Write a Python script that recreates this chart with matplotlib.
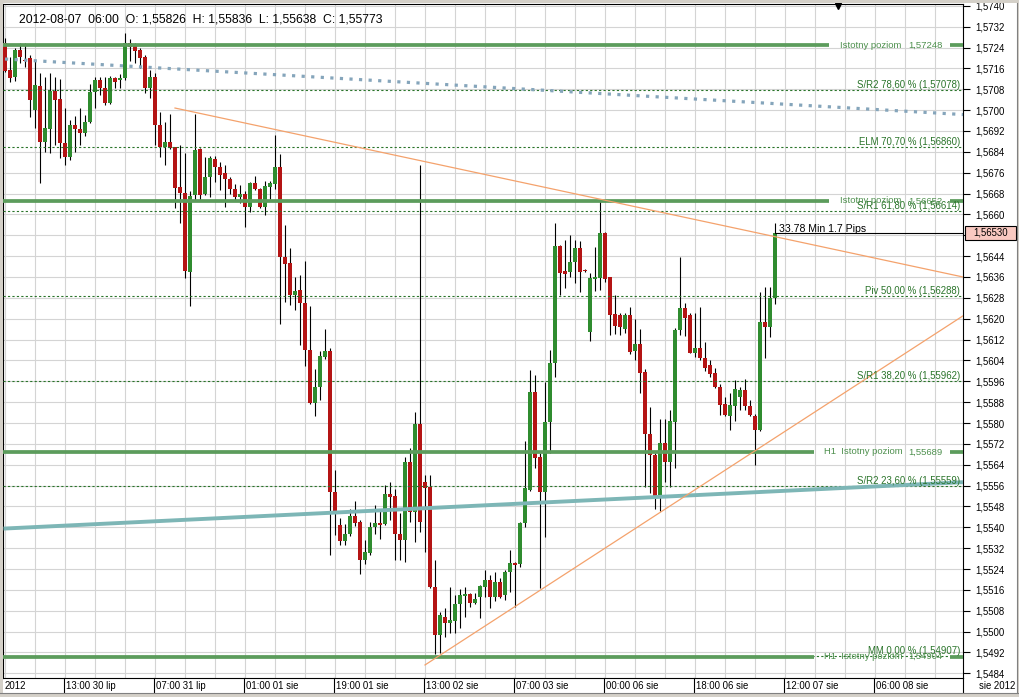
import matplotlib
matplotlib.use('Agg')
import matplotlib.pyplot as plt
from matplotlib.patches import Rectangle
from matplotlib.transforms import blended_transform_factory
import numpy as np

plt.rcParams['font.family'] = ['Liberation Sans', 'DejaVu Sans']

# ---------------- data (GBPUSD H1 candles) ----------------
opens = [1.57256, 1.57154, 1.57128, 1.57230, 1.57194, 1.57198, 1.57000, 1.57092, 1.56879, 1.56926,
         1.57073, 1.57041, 1.56872, 1.56821, 1.56943, 1.56929, 1.56913, 1.56953, 1.57070, 1.57115,
         1.57086, 1.57026, 1.57122, 1.57115, 1.57122, 1.57256, 1.57249, 1.57230, 1.57205, 1.57083,
         1.57128, 1.56943, 1.56857, 1.56879, 1.56857, 1.56704, 1.56683, 1.56378, 1.56674, 1.56849,
         1.56678, 1.56744, 1.56811, 1.56783, 1.56757, 1.56734, 1.56696, 1.56665, 1.56678, 1.56627,
         1.56719, 1.56696, 1.56629, 1.56706, 1.56716, 1.56782, 1.56436, 1.56415, 1.56291, 1.56310,
         1.56259, 1.56081, 1.55877, 1.55939, 1.56052, 1.56076, 1.55534, 1.55408, 1.55348, 1.55373,
         1.55445, 1.55421, 1.55276, 1.55300, 1.55402, 1.55418, 1.55413, 1.55526, 1.55521, 1.55374,
         1.55351, 1.55652, 1.55460, 1.55796, 1.55575, 1.55553, 1.55172, 1.54987, 1.55055, 1.55034,
         1.55042, 1.55106, 1.55137, 1.55144, 1.55108, 1.55134, 1.55170, 1.55198, 1.55134, 1.55191,
         1.55140, 1.55230, 1.55264, 1.55259, 1.55415, 1.55543, 1.55920, 1.55671, 1.55537, 1.55805,
         1.56029, 1.56479, 1.56384, 1.56380, 1.56419, 1.56470, 1.56387, 1.56150, 1.56351, 1.56355,
         1.56527, 1.56359, 1.56218, 1.56214, 1.56159, 1.56214, 1.56077, 1.56103, 1.55997, 1.55758,
         1.55677, 1.55511, 1.55722, 1.55652, 1.55805, 1.56157, 1.56240, 1.56214, 1.56070, 1.56086,
         1.56048, 1.56022, 1.55991, 1.55939, 1.55873, 1.55827, 1.55865, 1.55898, 1.55926, 1.55865,
         1.55826, 1.55773, 1.56189, 1.56169, 1.56278]
highs = [1.57275, 1.57205, 1.57237, 1.57256, 1.57258, 1.57211, 1.57192, 1.57141, 1.57128, 1.57143,
         1.57128, 1.57118, 1.57010, 1.56962, 1.56977, 1.57010, 1.56981, 1.57102, 1.57128, 1.57128,
         1.57128, 1.57131, 1.57128, 1.57137, 1.57297, 1.57271, 1.57258, 1.57237, 1.57211, 1.57154,
         1.57141, 1.56994, 1.56955, 1.56987, 1.56860, 1.56866, 1.56836, 1.56690, 1.56985, 1.56853,
         1.56821, 1.56824, 1.56824, 1.56802, 1.56789, 1.56744, 1.56716, 1.56712, 1.56691, 1.56725,
         1.56747, 1.56700, 1.56728, 1.56728, 1.56903, 1.56831, 1.56561, 1.56472, 1.56359, 1.56367,
         1.56423, 1.56249, 1.56006, 1.56076, 1.56162, 1.56087, 1.55618, 1.55437, 1.55413, 1.55470,
         1.55499, 1.55429, 1.55353, 1.55421, 1.55486, 1.55466, 1.55563, 1.55575, 1.55547, 1.55454,
         1.55671, 1.55703, 1.55843, 1.56790, 1.55601, 1.55601, 1.55275, 1.55076, 1.55089, 1.55170,
         1.55140, 1.55162, 1.55172, 1.55147, 1.55147, 1.55179, 1.55236, 1.55217, 1.55230, 1.55204,
         1.55236, 1.55313, 1.55268, 1.55422, 1.55732, 1.56003, 1.55984, 1.55684, 1.55958, 1.56080,
         1.56566, 1.56483, 1.56502, 1.56521, 1.56502, 1.56499, 1.56390, 1.56374, 1.56476, 1.56655,
         1.56534, 1.56361, 1.56291, 1.56223, 1.56223, 1.56246, 1.56198, 1.56159, 1.56006, 1.55863,
         1.55686, 1.55814, 1.55814, 1.55850, 1.56163, 1.56438, 1.56259, 1.56221, 1.56221, 1.56244,
         1.56112, 1.56042, 1.56010, 1.55950, 1.55898, 1.55914, 1.55965, 1.55939, 1.55967, 1.55888,
         1.55836, 1.56304, 1.56320, 1.56323, 1.56568]
lows = [1.57145, 1.57109, 1.57113, 1.57179, 1.57164, 1.56975, 1.56930, 1.56721, 1.56840, 1.56834,
        1.56866, 1.56815, 1.56789, 1.56808, 1.56840, 1.56866, 1.56900, 1.56949, 1.57009, 1.57058,
        1.57019, 1.57023, 1.57083, 1.57083, 1.57115, 1.57189, 1.57182, 1.57160, 1.57067, 1.57045,
        1.56866, 1.56821, 1.56789, 1.56849, 1.56623, 1.56566, 1.56356, 1.56249, 1.56655, 1.56655,
        1.56674, 1.56668, 1.56725, 1.56693, 1.56627, 1.56677, 1.56655, 1.56642, 1.56550, 1.56610,
        1.56693, 1.56623, 1.56597, 1.56661, 1.56696, 1.56181, 1.56265, 1.56254, 1.56233, 1.56100,
        1.56020, 1.55871, 1.55825, 1.55890, 1.56044, 1.55295, 1.55369, 1.55332, 1.55332, 1.55365,
        1.55405, 1.55219, 1.55260, 1.55295, 1.55373, 1.55356, 1.55408, 1.55429, 1.55273, 1.55275,
        1.55268, 1.55422, 1.55345, 1.55383, 1.55306, 1.55166, 1.54914, 1.54917, 1.54978, 1.54993,
        1.54993, 1.55012, 1.55057, 1.55095, 1.55106, 1.55051, 1.55134, 1.55089, 1.55118, 1.55128,
        1.55121, 1.55153, 1.55096, 1.55249, 1.55402, 1.55540, 1.55626, 1.55166, 1.55364, 1.55684,
        1.55978, 1.56291, 1.56316, 1.56361, 1.56336, 1.56304, 1.56380, 1.56116, 1.56308, 1.56310,
        1.56342, 1.56137, 1.56141, 1.56137, 1.56147, 1.56065, 1.56042, 1.55914, 1.55553, 1.55533,
        1.55469, 1.55464, 1.55575, 1.55556, 1.55626, 1.56137, 1.56134, 1.56067, 1.56052, 1.56042,
        1.56001, 1.55978, 1.55933, 1.55831, 1.55827, 1.55773, 1.55809, 1.55850, 1.55850, 1.55827,
        1.55638, 1.55770, 1.56048, 1.56131, 1.56256]
closes = [1.57151, 1.57122, 1.57230, 1.57205, 1.57189, 1.57039, 1.57096, 1.56879, 1.56930, 1.57073,
          1.57039, 1.56872, 1.56821, 1.56943, 1.56926, 1.56913, 1.56955, 1.57070, 1.57115, 1.57083,
          1.57026, 1.57122, 1.57109, 1.57124, 1.57256, 1.57243, 1.57228, 1.57198, 1.57083, 1.57128,
          1.56943, 1.56860, 1.56879, 1.56853, 1.56700, 1.56683, 1.56383, 1.56669, 1.56847, 1.56674,
          1.56744, 1.56817, 1.56783, 1.56751, 1.56734, 1.56696, 1.56665, 1.56678, 1.56629, 1.56719,
          1.56696, 1.56629, 1.56709, 1.56719, 1.56783, 1.56436, 1.56411, 1.56291, 1.56307, 1.56259,
          1.56081, 1.55877, 1.55939, 1.56056, 1.56076, 1.55534, 1.55454, 1.55348, 1.55376, 1.55445,
          1.55418, 1.55276, 1.55305, 1.55402, 1.55418, 1.55408, 1.55526, 1.55518, 1.55373, 1.55351,
          1.55652, 1.55460, 1.55796, 1.55421, 1.55549, 1.55170, 1.54987, 1.55064, 1.55034, 1.55044,
          1.55106, 1.55140, 1.55144, 1.55108, 1.55124, 1.55175, 1.55198, 1.55134, 1.55191, 1.55134,
          1.55230, 1.55262, 1.55255, 1.55415, 1.55549, 1.55920, 1.55664, 1.55537, 1.55805, 1.56029,
          1.56479, 1.56374, 1.56371, 1.56419, 1.56470, 1.56380, 1.56384, 1.56355, 1.56361, 1.56527,
          1.56351, 1.56214, 1.56172, 1.56169, 1.56214, 1.56074, 1.56103, 1.55993, 1.55758, 1.55677,
          1.55511, 1.55722, 1.55652, 1.55809, 1.56157, 1.56240, 1.56201, 1.56070, 1.56086, 1.56048,
          1.56010, 1.55988, 1.55939, 1.55869, 1.55831, 1.55869, 1.55929, 1.55926, 1.55865, 1.55831,
          1.55773, 1.56189, 1.56169, 1.56278, 1.56530]

time_labels = ["13:00 30 lip", "07:00 31 lip", "01:00 01 sie", "19:00 01 sie", "13:00 02 sie",
               "07:00 03 sie", "00:00 06 sie", "18:00 06 sie", "12:00 07 sie", "06:00 08 sie"]
time_label_bar = [12, 30, 48, 66, 84, 102, 120, 138, 156, 174]

price_ticks = [round(1.5484 + 0.0008 * k, 4) for k in range(33)]

fib_levels = [1.57078, 1.56860, 1.56614, 1.56288, 1.55962, 1.55559, 1.54907]
fib_labels = ["S/R2 78,60 % (1,57078)", "ELM 70,70 % (1,56860)", "S/R1 61,80 % (1,56614)",
              "Piv 50,00 % (1,56288)", "S/R1 38,20 % (1,55962)", "S/R2 23,60 % (1,55559)",
              "MM 0,00 % (1,54907)"]

key_levels = [1.57248, 1.56652, 1.55689, 1.54904]
key_names = ["Istotny poziom", "Istotny poziom", "H1  Istotny poziom", "H1  Istotny poziom"]
key_values = ["1,57248", "1,56652", "1,55689", "1,54904"]

# trend objects: (bar1, price1, bar2, price2)
blue_dotted = (0.0, 1.57196, 191.6, 1.56983)
teal_line = (-0.3, 1.55395, 191.6, 1.55573)
orange_down = (34.0, 1.57008, 191.6, 1.56360)
orange_up = (84.0, 1.54872, 191.6, 1.56211)

last_price = 1.56530
header = "2012-08-07  06:00  O: 1,55826  H: 1,55836  L: 1,55638  C: 1,55773"
timer_text = "33.78 Min 1.7 Pips"

# ---------------- layout ----------------
W, H = 1020, 697
L_PX, R_PX, T_PX, B_PX = 3.5, 963.0, 4.0, 678.0
xmin, xmax = -0.3, 191.6
ymin, ymax = 1.54822, 1.57407

fig = plt.figure(figsize=(W / 100, H / 100), dpi=100)
fig.patch.set_facecolor('white')
ax = fig.add_axes([L_PX / W, 1 - B_PX / H, (R_PX - L_PX) / W, (B_PX - T_PX) / H])
ax.set_xlim(xmin, xmax)
ax.set_ylim(ymin, ymax)
ax.set_facecolor('white')

ppx = (B_PX - T_PX) / (ymax - ymin)      # pixels per price unit
xpx = (R_PX - L_PX) / (xmax - xmin)      # pixels per bar


def px2bar(px):
    return xmin + (px - L_PX) / xpx


# grid
for p in price_ticks:
    ax.axhline(p, color='#d4d4d4', lw=0.8, zorder=0.5)
for b in range(0, 192, 6):
    ax.axvline(b, color='#d4d4d4', lw=0.8, zorder=0.5)

# candles
o = np.array(opens); h = np.array(highs); l = np.array(lows); c = np.array(closes)
x = np.arange(len(o))
ax.vlines(x, l, h, color='black', lw=0.8, zorder=2)
bottom = np.minimum(o, c)
height = np.maximum(np.abs(c - o), 1.0 / ppx)
cols = np.where(c >= o, '#2f8c2f', '#b41414')
ax.bar(x, height, bottom=bottom, width=0.62, color=cols, linewidth=0, zorder=3)

# fibonacci dotted levels
fib_col = '#2a742a'
for lev, lab in zip(fib_levels, fib_labels):
    ax.axhline(lev, color=fib_col, lw=0.8, ls=(0, (2, 2)), zorder=4)
    ax.text(px2bar(960), lev + 2.0 / ppx, lab, ha='right', va='baseline',
            fontsize=6.9, color=fib_col, zorder=6)

# key horizontal levels
key_col = '#5c9c5c'
for k, (lev, nm, val) in enumerate(zip(key_levels, key_names, key_values)):
    if nm.startswith('H1'):
        gap0, t0 = 814, 824
    else:
        gap0, t0 = 829, 840
    ax.plot([xmin, px2bar(gap0)], [lev, lev], color=key_col, lw=2.7,
            solid_capstyle='butt', zorder=4)
    ax.plot([px2bar(950), xmax], [lev, lev], color=key_col, lw=2.7,
            solid_capstyle='butt', zorder=4)
    ax.text(px2bar(t0), lev, nm, ha='left', va='center', fontsize=6.8,
            color='#4e904e', zorder=6)
    ax.text(px2bar(943), lev, val, ha='right', va='center', fontsize=6.8,
            color='#4e904e', zorder=6)

# trend lines
ax.plot(blue_dotted[0::2], blue_dotted[1::2], color='#85a5bb', lw=2.3,
        ls=(0, (1, 2)), zorder=4)
ax.plot(teal_line[0::2], teal_line[1::2], color='#7db6b6', lw=2.8,
        solid_capstyle='butt', zorder=4)
ax.plot(orange_down[0::2], orange_down[1::2], color='#f4a26c', lw=0.9, zorder=4)
ax.plot(orange_up[0::2], orange_up[1::2], color='#f4a26c', lw=0.9, zorder=4)

# last price line and timer text
ax.plot([len(o) - 1, xmax], [last_price, last_price], color='black', lw=0.8, zorder=5)
ax.text(len(o) - 1 + 0.8, last_price + 3.5 / ppx, timer_text, ha='left', va='center',
        fontsize=7.6, color='black', zorder=6)

# small marker at top
ax.plot([px2bar(838)], [ymax - 2.0 / ppx], marker='v', ms=5, color='black',
        clip_on=False, zorder=7)

# axes styling
for s in ax.spines.values():
    s.set_color('black')
    s.set_linewidth(0.8)
ax.set_xticks([])
ax.yaxis.tick_right()
ax.set_yticks(price_ticks)
ax.set_yticklabels(['' if abs(p - 1.5652) < 1e-6 else ('%.4f' % p).replace('.', ',')
                    for p in price_ticks])
ax.tick_params(axis='y', direction='out', length=5, width=0.8, pad=4,
               labelsize=6.9, colors='black')

# price box on the right axis
tb = blended_transform_factory(ax.transAxes, ax.transData)
bx0 = (965 - L_PX) / (R_PX - L_PX)
bx1 = (1016 - L_PX) / (R_PX - L_PX)
ax.add_patch(Rectangle((bx0, last_price - 7 / ppx), bx1 - bx0, 14 / ppx, transform=tb,
                       facecolor='#f9c9c1', edgecolor='black', lw=0.8, clip_on=False,
                       zorder=8))
ax.text((bx0 + bx1) / 2, last_price, ('%.5f' % last_price).replace('.', ','),
        transform=tb, ha='center', va='center', fontsize=6.9, color='black',
        clip_on=False, zorder=9)

# time axis labels
tx = blended_transform_factory(ax.transData, ax.transAxes)
yc = -(686 - B_PX) / (B_PX - T_PX)
ybot = -(693 - B_PX) / (B_PX - T_PX)
ax.text(px2bar(5), yc, "2012", transform=tx, ha='left', va='center', fontsize=6.9,
        clip_on=False)
for b, lab in zip(time_label_bar, time_labels):
    ax.plot([b - 0.2, b - 0.2], [0, ybot], transform=tx, color='black', lw=0.8,
            clip_on=False)
    ax.text(b + 0.3, yc, lab, transform=tx, ha='left', va='center', fontsize=6.9,
            clip_on=False)
ax.plot([1, 1], [0, ybot], transform=ax.transAxes, color='black', lw=0.8, clip_on=False)
fig.text(1015 / W, 1 - 686 / H, "sie 2012", ha='right', va='center', fontsize=6.9)

# header
fig.text(19 / W, 1 - 20 / H, header, ha='left', va='center', fontsize=8.8, color='black')

# window borders
border = '#d4d0c8'
fig.add_artist(Rectangle((0, 1 - 3.2 / H), 1, 3.2 / H, transform=fig.transFigure,
                         facecolor=border, edgecolor='none', zorder=20))
fig.add_artist(Rectangle((0, 0), 1, 4 / H, transform=fig.transFigure,
                         facecolor=border, edgecolor='none', zorder=20))
fig.add_artist(Rectangle((0, 0), 3 / W, 1, transform=fig.transFigure,
                         facecolor=border, edgecolor='none', zorder=20))
fig.add_artist(Rectangle((1 - 2.5 / W, 0), 2.5 / W, 1, transform=fig.transFigure,
                         facecolor=border, edgecolor='none', zorder=20))
fig.add_artist(plt.Line2D([0, 1], [4 / H, 4 / H], transform=fig.transFigure,
                          color='#808080', lw=0.8, zorder=21))
fig.add_artist(plt.Line2D([1 - 2.5 / W, 1 - 2.5 / W], [4 / H, 1 - 3.2 / H],
                          transform=fig.transFigure, color='#808080', lw=0.8, zorder=21))

fig.savefig('out.png', dpi=100)
